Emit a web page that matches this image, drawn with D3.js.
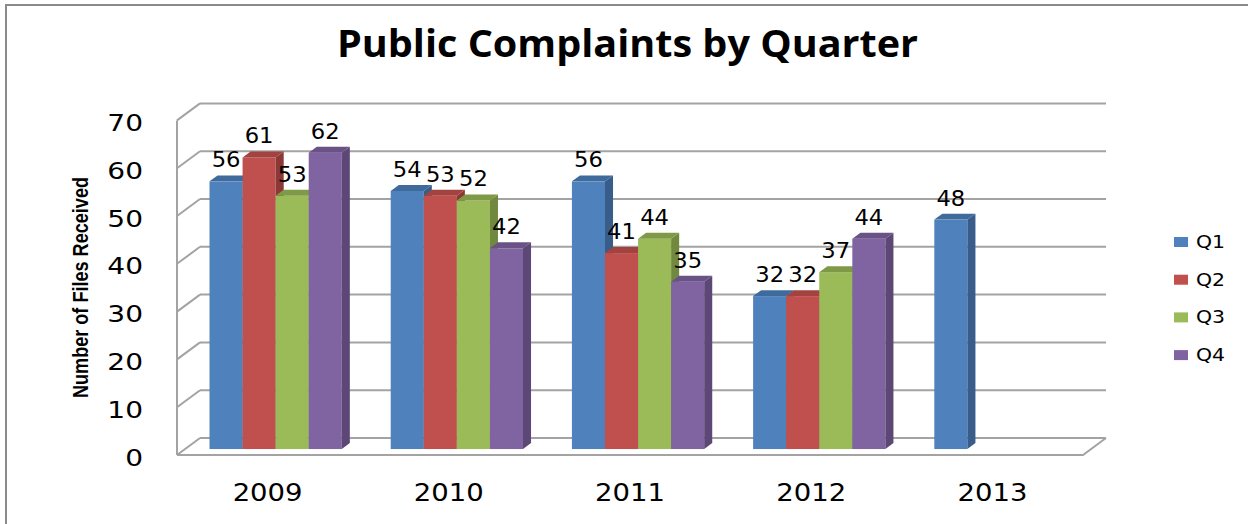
<!DOCTYPE html>
<html>
<head>
<meta charset="utf-8">
<script src="https://cdn.jsdelivr.net/npm/d3@7"></script>
<style>
  html, body { margin: 0; padding: 0; background: #fff; }
  svg { display: block; }
</style>
</head>
<body>
<div id="chart"></div>
<script>
// chart data
const years = ['2009', '2010', '2011', '2012', '2013']
const quarters = ['Q1', 'Q2', 'Q3', 'Q4']
const q1 = [56, 54, 56, 32, 48]
const q2 = [61, 53, 41, 32, null]
const q3 = [53, 52, 44, 37, null]
const q4 = [62, 42, 35, 44, null]
const yTicks = [0, 10, 20, 30, 40, 50, 60, 70]

const width = 1248
const height = 524

// colours: front, side, top
const palette = {
  Q1: ['#4F81BD', '#385D8A', '#3F6A9C'],
  Q2: ['#C0504D', '#8C3836', '#A24340'],
  Q3: ['#9BBB59', '#71893F', '#7F9A47'],
  Q4: ['#8064A2', '#5C4776', '#6A5287'],
}

const series = { Q1: q1, Q2: q2, Q3: q3, Q4: q4 }

const svg = d3.select('#chart').append('svg').attr('width', width).attr('height', height)

// outer frame (only top/left visible)
svg.append('path')
  .attr('d', `M6,${height} L6,5 L${width},5`)
  .attr('fill', 'none')
  .attr('stroke', '#8a8a8a')
  .attr('stroke-width', 2)

// 3D 投影參數
const depthX = 23
const depthY = -17
const z0 = 0.35
const z1 = 0.7

const x = d3.scaleBand().domain(years).range([177, 1083]).paddingInner(0.27).paddingOuter(0.135)
const xq = d3.scaleBand().domain(quarters).range([0, x.bandwidth()])
const y = d3.scaleLinear().domain([0, 70]).range([455, 120.4])

const px = (vx, z) => vx + z * depthX
const py = (v, z) => y(v) + z * depthY

/** 格線與牆面 */
const grid = svg.append('g').attr('stroke', '#a3a3a3').attr('stroke-width', 2).attr('fill', 'none')
const [x0, x1] = x.range()

grid.selectAll('.back')
  .data(yTicks)
  .join('line')
  .attr('x1', px(x0, 1)).attr('x2', px(x1, 1))
  .attr('y1', d => py(d, 1)).attr('y2', d => py(d, 1))

grid.selectAll('.side')
  .data(yTicks)
  .join('line')
  .attr('x1', px(x0, 0)).attr('x2', px(x0, 1))
  .attr('y1', d => py(d, 0)).attr('y2', d => py(d, 1))

grid.append('line')
  .attr('x1', x0).attr('x2', x0)
  .attr('y1', y(0)).attr('y2', y(70))

grid.append('path')
  .attr('d', `M${x0},${y(0)} L${x1},${y(0)} L${px(x1, 1)},${py(0, 1)}`)

/** 長條 */
const bars = []
years.forEach((yr, i) => {
  quarters.forEach(q => {
    const v = series[q][i]
    if (v === null) return
    bars.push({ year: yr, q, v, bx: x(yr) + xq(q), bw: xq.bandwidth() })
  })
})

const barG = svg.append('g')
bars.forEach(b => {
  const [front, side, top] = palette[b.q]
  const g = barG.append('g')
  const l = b.bx
  const r = b.bx + b.bw
  g.append('rect')
    .attr('x', px(l, z0))
    .attr('y', py(b.v, z0))
    .attr('width', b.bw)
    .attr('height', py(0, z0) - py(b.v, z0))
    .attr('fill', front)
  g.append('polygon')
    .attr('points', [
      [px(r, z0), py(b.v, z0)],
      [px(r, z1), py(b.v, z1)],
      [px(r, z1), py(0, z1)],
      [px(r, z0), py(0, z0)],
    ].join(' '))
    .attr('fill', side)
  g.append('polygon')
    .attr('points', [
      [px(l, z0), py(b.v, z0)],
      [px(r, z0), py(b.v, z0)],
      [px(r, z1), py(b.v, z1)],
      [px(l, z1), py(b.v, z1)],
    ].join(' '))
    .attr('fill', top)
})

// stretched text helper
const stretchText = (sel, { tx, ty, sx = 1, anchor = 'middle' }) =>
  sel.attr('transform', `translate(${tx},${ty}) scale(${sx},1)`).attr('text-anchor', anchor)

/** 數值標籤 */
svg.append('g')
  .selectAll('text')
  .data(bars)
  .join('text')
  .text(d => d.v)
  .attr('font-family', 'DejaVu Sans, Verdana, sans-serif')
  .attr('font-size', 21)
  .attr('fill', '#000')
  .each(function (d) {
    stretchText(d3.select(this), { tx: px(d.bx + d.bw / 2, z0), ty: py(d.v, z0) - 14, sx: 1.08 })
  })

/** Y 軸刻度 */
svg.append('g')
  .selectAll('text')
  .data(yTicks)
  .join('text')
  .text(d => d)
  .attr('font-family', 'DejaVu Sans, Verdana, sans-serif')
  .attr('font-size', 23)
  .attr('fill', '#000')
  .each(function (d) {
    stretchText(d3.select(this), { tx: 143, ty: y(d) + 10.5, sx: 1.22, anchor: 'end' })
  })

/** X 軸標籤 */
svg.append('g')
  .selectAll('text')
  .data(years)
  .join('text')
  .text(d => d)
  .attr('font-family', 'DejaVu Sans, Verdana, sans-serif')
  .attr('font-size', 25)
  .attr('fill', '#000')
  .each(function (d) {
    stretchText(d3.select(this), { tx: x(d) + x.bandwidth() / 2, ty: 501, sx: 1.1 })
  })

// title
svg.append('text')
  .text('Public Complaints by Quarter')
  .attr('x', 627.5)
  .attr('y', 57)
  .attr('text-anchor', 'middle')
  .attr('font-family', 'Open Sans, Noto Sans, sans-serif')
  .attr('font-weight', 700)
  .attr('font-size', 37)
  .attr('textLength', 581)
  .attr('lengthAdjust', 'spacingAndGlyphs')
  .attr('fill', '#000')

// y axis title
svg.append('text')
  .text('Number of Files Received')
  .attr('transform', 'translate(88,287.5) rotate(-90)')
  .attr('text-anchor', 'middle')
  .attr('font-family', 'Liberation Sans Narrow, Liberation Sans, Arial, sans-serif')
  .attr('font-weight', 700)
  .attr('font-size', 22)
  .attr('textLength', 221)
  .attr('lengthAdjust', 'spacingAndGlyphs')
  .attr('fill', '#000')

/** 圖例 */
const legend = svg.append('g')
  .selectAll('g')
  .data(quarters)
  .join('g')
  .attr('transform', (d, i) => `translate(1174,${242 + i * 37.7})`)

legend.append('rect')
  .attr('x', 0)
  .attr('y', -5)
  .attr('width', 14)
  .attr('height', 10)
  .attr('fill', d => palette[d][0])

legend.append('text')
  .text(d => d)
  .attr('font-family', 'DejaVu Sans, Verdana, sans-serif')
  .attr('font-size', 17)
  .attr('fill', '#000')
  .each(function () {
    stretchText(d3.select(this), { tx: 22, ty: 6, sx: 1.2, anchor: 'start' })
  })
</script>
</body>
</html>
